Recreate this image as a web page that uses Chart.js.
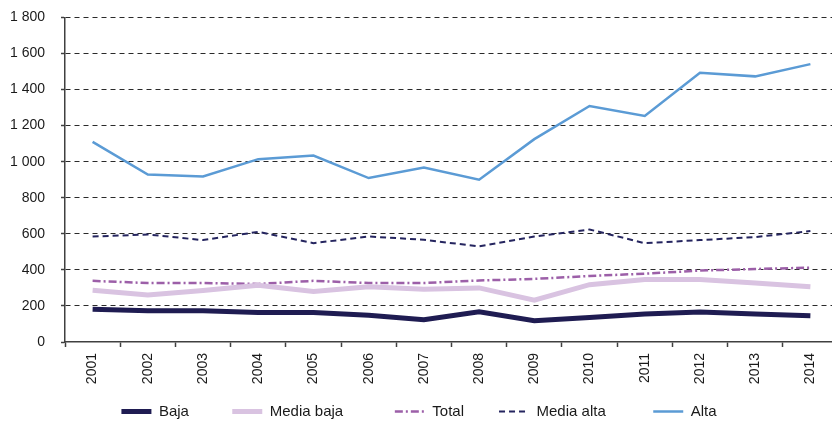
<!DOCTYPE html>
<html lang="es">
<head>
    <meta charset="UTF-8">
    <title>Baja / Media baja / Total / Media alta / Alta</title>
    <script src="https://cdn.jsdelivr.net/npm/chart.js@4.4.1/dist/chart.umd.min.js"></script>
    <style>
        html, body { margin: 0; padding: 0; overflow: hidden; background: #fff; }
        #chart { display: block; margin-top: -7px; }
    </style>
</head>
<body>
    <canvas id="chart" width="838" height="436"></canvas>

    <script>
        // data
        const years = ['2001', '2002', '2003', '2004', '2005', '2006', '2007',
                       '2008', '2009', '2010', '2011', '2012', '2013', '2014'];
        const baja      = [182, 173, 173, 164, 164, 148, 123, 167, 118, 136, 155, 166, 155, 145];
        const mediaBaja = [287, 261, 285, 315, 280, 307, 293, 300, 232, 318, 346, 346, 327, 307];
        const total     = [339, 327, 327, 322, 339, 327, 327, 341, 350, 366, 379, 396, 405, 412];
        const mediaAlta = [585, 596, 565, 611, 548, 585, 567, 530, 585, 624, 548, 565, 582, 615];
        const alta      = [1110, 929, 918, 1014, 1034, 909, 968, 900, 1125, 1309, 1253, 1493, 1473, 1541];
        const yTicks    = [0, 200, 400, 600, 800, 1000, 1200, 1400, 1600, 1800];

        // extra spacing after each legend entry (in spaces), to mimic the original legend slots
        const legendGap = [8, 10, 6, 9, 0];

        const axisColor = '#404040';

        function fmt(v) {
            return String(v).replace(/\B(?=(\d{3})+(?!\d))/g, ' ');
        }

        const ctx = document.getElementById('chart').getContext('2d');

        new Chart(ctx, {
            type: 'line',
            data: {
                labels: years,
                datasets: [
                    {
                        label: 'Baja',
                        data: baja,
                        borderColor: '#1f1c52',
                        backgroundColor: '#1f1c52',
                        borderWidth: 5
                    },
                    {
                        label: 'Media baja',
                        data: mediaBaja,
                        borderColor: '#d9c3e1',
                        backgroundColor: '#d9c3e1',
                        borderWidth: 5
                    },
                    {
                        label: 'Total',
                        data: total,
                        borderColor: '#9c5fa8',
                        backgroundColor: '#9c5fa8',
                        borderWidth: 2.5,
                        borderDash: [8, 3, 2, 3]
                    },
                    {
                        label: 'Media alta',
                        data: mediaAlta,
                        borderColor: '#25255f',
                        backgroundColor: '#25255f',
                        borderWidth: 2,
                        borderDash: [6, 4]
                    },
                    {
                        label: 'Alta',
                        data: alta,
                        borderColor: '#5b9bd5',
                        backgroundColor: '#5b9bd5',
                        borderWidth: 2.5
                    }
                ]
            },
            options: {
                responsive: false,
                animation: false,
                devicePixelRatio: 1,
                layout: { padding: { top: 0, left: 0, right: 0, bottom: 0 } },
                elements: {
                    point: { radius: 0, hoverRadius: 0 },
                    line: { tension: 0, borderCapStyle: 'butt' }
                },
                scales: {
                    x: {
                        type: 'category',
                        offset: true,
                        afterFit: (scale) => { scale.height = 52; },
                        grid: {
                            offset: true,
                            drawOnChartArea: false,
                            drawTicks: true,
                            tickLength: 5,
                            tickColor: axisColor,
                            tickWidth: 1.5
                        },
                        border: { display: true, color: axisColor, width: 1.5 },
                        ticks: {
                            minRotation: 90,
                            maxRotation: 90,
                            padding: 6,
                            color: '#1a1a1a',
                            font: { family: 'Liberation Sans, Arial, sans-serif', size: 14 }
                        }
                    },
                    y: {
                        min: 0,
                        max: 1800,
                        afterFit: (scale) => { scale.width = 65; },
                        afterBuildTicks: (scale) => {
                            scale.ticks = yTicks.map(v => ({ value: v }));
                        },
                        grid: {
                            color: (c) => (c.tick && c.tick.value === 0) ? 'rgba(0,0,0,0)' : '#2a2a2a',
                            lineWidth: 1,
                            drawTicks: true,
                            tickLength: 4,
                            tickColor: axisColor,
                            tickWidth: 1.5
                        },
                        border: { display: true, color: axisColor, width: 1.5, dash: [5, 4] },
                        ticks: {
                            padding: 16,
                            color: '#1a1a1a',
                            font: { family: 'Liberation Sans, Arial, sans-serif', size: 14 },
                            callback: (v) => fmt(v)
                        }
                    }
                },
                plugins: {
                    legend: {
                        display: true,
                        position: 'bottom',
                        labels: {
                            usePointStyle: true,
                            pointStyle: 'line',
                            pointStyleWidth: 30,
                            padding: 10,
                            color: '#1a1a1a',
                            font: { family: 'Liberation Sans, Arial, sans-serif', size: 15 },
                            generateLabels: (chart) => {
                                const items = Chart.defaults.plugins.legend.labels.generateLabels(chart);
                                items.forEach((it) => {
                                    const ds = chart.data.datasets[it.datasetIndex];
                                    it.lineWidth = ds.borderWidth;
                                    it.lineDash = ds.borderDash || [];
                                    it.strokeStyle = ds.borderColor;
                                    it.text = it.text + ' '.repeat(legendGap[it.datasetIndex] || 0);
                                });
                                return items;
                            }
                        }
                    },
                    tooltip: { enabled: false }
                }
            }
        });
    </script>
</body>
</html>
